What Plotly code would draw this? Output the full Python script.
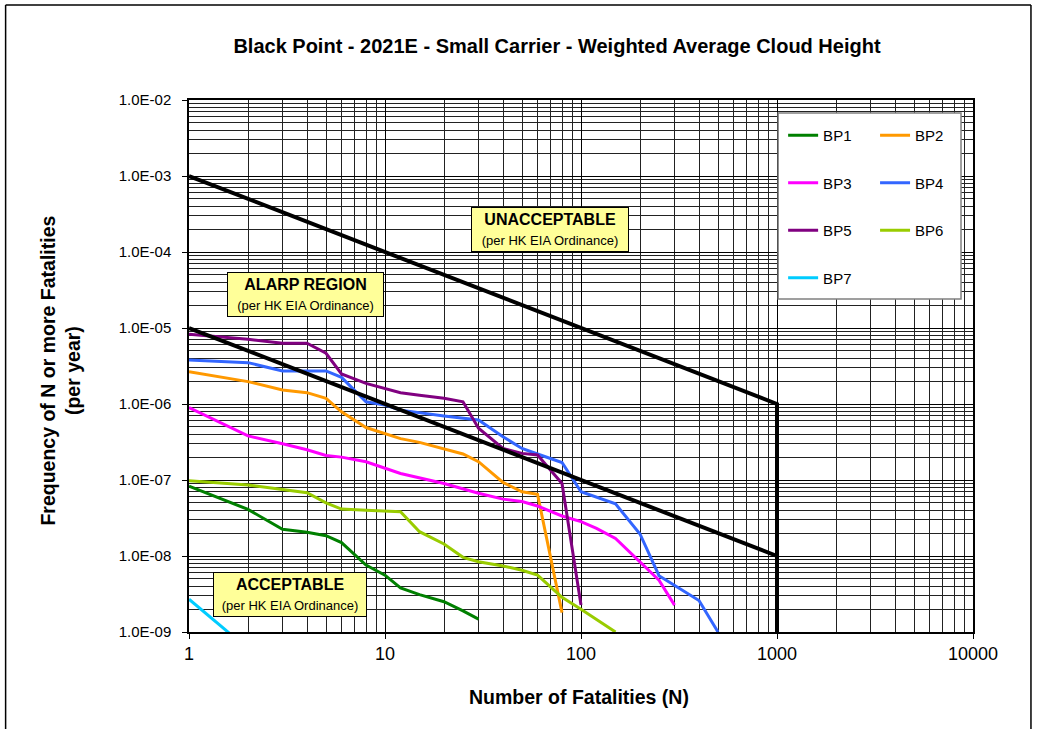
import plotly.graph_objects as go

# ---------------- data ----------------
bp1_n = [1, 2, 3, 4, 5, 6, 8, 10, 12, 15, 20, 25, 30]
bp1_f = [8.3e-8, 4.1e-8, 2.25e-8, 2.05e-8, 1.85e-8, 1.5e-8, 7.6e-9, 5.6e-9, 3.8e-9, 3.1e-9, 2.5e-9, 1.9e-9, 1.48e-9]

bp2_n = [1, 2, 3, 4, 5, 6, 8, 10, 12, 15, 20, 25, 30, 40, 50, 60, 80]
bp2_f = [2.66e-6, 1.97e-6, 1.53e-6, 1.41e-6, 1.19e-6, 7.9e-7, 4.9e-7, 4.1e-7, 3.5e-7, 3.13e-7,
         2.6e-7, 2.2e-7, 1.74e-7, 9.3e-8, 7.0e-8, 6.5e-8, 1.8e-9]

bp3_n = [1, 2, 3, 4, 5, 6, 8, 10, 12, 20, 30, 40, 50, 60, 80, 100, 120, 150, 200, 250, 300]
bp3_f = [9.0e-7, 3.8e-7, 3.0e-7, 2.5e-7, 2.1e-7, 2.0e-7, 1.74e-7, 1.43e-7, 1.22e-7, 9.0e-8, 6.7e-8,
         5.6e-8, 5.2e-8, 4.55e-8, 3.36e-8, 2.83e-8, 2.31e-8, 1.7e-8, 8.4e-9, 4.8e-9, 2.26e-9]

bp4_n = [1, 2, 3, 4, 5, 6, 8, 10, 12, 20, 25, 30, 40, 50, 60, 80, 100, 150, 200, 250, 400, 500]
bp4_f = [3.8e-6, 3.5e-6, 2.72e-6, 2.72e-6, 2.72e-6, 2.24e-6, 1.07e-6, 9.7e-7, 8.3e-7, 6.95e-7, 6.5e-7,
         6.15e-7, 3.7e-7, 2.6e-7, 2.2e-7, 1.7e-7, 7.0e-8, 4.85e-8, 1.95e-8, 5.5e-9, 2.6e-9, 1.0e-9]

bp5_n = [1, 2, 3, 4, 5, 6, 8, 10, 12, 15, 20, 25, 30, 40, 50, 60, 80, 100]
bp5_f = [8.3e-6, 7.1e-6, 6.3e-6, 6.3e-6, 4.65e-6, 2.48e-6, 1.87e-6, 1.61e-6, 1.41e-6, 1.3e-6, 1.19e-6,
         1.07e-6, 4.8e-7, 2.6e-7, 2.24e-7, 2.13e-7, 9.0e-8, 2.26e-9]

bp6_n = [1, 2, 3, 4, 5, 6, 8, 10, 12, 15, 20, 25, 30, 40, 50, 60, 80, 100, 150]
bp6_f = [9.8e-8, 8.6e-8, 7.5e-8, 6.8e-8, 5.0e-8, 4.15e-8, 4.0e-8, 3.9e-8, 3.83e-8, 2.09e-8, 1.44e-8,
         9.6e-9, 8.4e-9, 7.4e-9, 6.5e-9, 5.6e-9, 2.86e-9, 1.99e-9, 1.0e-9]

bp7_n = [1, 2]
bp7_f = [2.7e-9, 6.0e-10]

upper_n = [1, 1000, 1000]
upper_f = [1e-3, 1e-6, 1e-9]
lower_n = [1, 1000]
lower_f = [1e-5, 1e-8]

series_names = ["BP1", "BP2", "BP3", "BP4", "BP5", "BP6", "BP7"]
series_colors = ["#008000", "#FF9900", "#FF00FF", "#3366FF", "#800080", "#99CC00", "#00CCFF"]
series_n = [bp1_n, bp2_n, bp3_n, bp4_n, bp5_n, bp6_n, bp7_n]
series_f = [bp1_f, bp2_f, bp3_f, bp4_f, bp5_f, bp6_f, bp7_f]

x_tick_vals = [1, 10, 100, 1000, 10000]
x_tick_text = ["1", "10", "100", "1000", "10000"]
y_tick_vals = [1e-2, 1e-3, 1e-4, 1e-5, 1e-6, 1e-7, 1e-8, 1e-9]
y_tick_text = ["1.0E-02", "1.0E-03", "1.0E-04", "1.0E-05", "1.0E-06", "1.0E-07", "1.0E-08", "1.0E-09"]

title_text = "Black Point - 2021E - Small Carrier - Weighted Average Cloud Height"
x_title = "Number of Fatalities (N)"
y_title = "Frequency of N or more Fatalities<br>(per year)"

FONT = "Liberation Sans, Arial, sans-serif"

# ---------------- figure ----------------
W, H = 1037, 729
L, R, T, B = 188.5, 973, 100, 632


def px(xp):
    return (xp - L) / (R - L)


def py(yp):
    return (B - yp) / (B - T)


fig = go.Figure()

left_col = {"BP1", "BP3", "BP5", "BP7"}
for name, col, n, f in zip(series_names, series_colors, series_n, series_f):
    fig.add_trace(go.Scatter(
        x=n, y=f, mode="lines", name=name,
        line=dict(color=col, width=3),
        legend="legend" if name in left_col else "legend2",
        legendgroup=name,
    ))

fig.add_trace(go.Scatter(x=upper_n, y=upper_f, mode="lines", showlegend=False,
                         line=dict(color="black", width=4)))
fig.add_trace(go.Scatter(x=lower_n, y=lower_f, mode="lines", showlegend=False,
                         line=dict(color="black", width=4)))

minor_x = [m * 10 ** d for d in range(0, 4) for m in range(2, 10)]
minor_y = [m * 10.0 ** d for d in range(-9, -2) for m in range(2, 10)]

fig.update_xaxes(
    type="log", range=[0, 4],
    tickvals=x_tick_vals, ticktext=x_tick_text,
    ticks="outside", ticklen=5, tickcolor="black",
    showline=True, linecolor="black", linewidth=1.5, mirror=True,
    showgrid=True, gridcolor="black", gridwidth=1,
    minor=dict(tickvals=minor_x, showgrid=True, gridcolor="#222222", gridwidth=1, ticks=""),
    tickfont=dict(family=FONT, size=18, color="black"),
    zeroline=False,
)
fig.update_yaxes(
    type="log", range=[-9, -2],
    tickvals=y_tick_vals, ticktext=y_tick_text,
    ticks="outside", ticklen=5, tickcolor="black",
    showline=True, linecolor="black", linewidth=1.5, mirror=True,
    showgrid=True, gridcolor="black", gridwidth=1,
    minor=dict(tickvals=minor_y, showgrid=True, gridcolor="#222222", gridwidth=1, ticks=""),
    tickfont=dict(family=FONT, size=15, color="black"),
    ticklabelstandoff=8,
    zeroline=False,
)

border = dict(type="line", xref="paper", yref="paper", line=dict(color="black", width=1.5), layer="above")
shapes = [
    # outer chart border
    dict(x0=px(5), x1=px(1031), y0=py(5), y1=py(5), **border),
    dict(x0=px(5), x1=px(5), y0=py(5), y1=py(740), **border),
    dict(x0=px(1031), x1=px(1031), y0=py(5), y1=py(740), **border),
    # legend box
    dict(type="rect", xref="paper", yref="paper",
         x0=px(778), x1=px(961), y0=py(299), y1=py(113),
         line=dict(color="#808080", width=1.5), fillcolor="white", layer="above"),
]

box_style = dict(xref="paper", yref="paper", showarrow=False,
                 bgcolor="#FFFF99", bordercolor="black", borderwidth=1, borderpad=2,
                 font=dict(family=FONT, size=16, color="black"),
                 xanchor="center", yanchor="middle", align="center")

sub = "<span style='font-size:13px'>(per HK EIA Ordinance)</span>"
annotations = [
    dict(text="<b>UNACCEPTABLE</b><br>" + sub, x=px(549.5), y=py(229.5), width=152, height=39, **box_style),
    dict(text="<b>ALARP REGION</b><br>" + sub, x=px(305.5), y=py(294.5), width=151, height=39, **box_style),
    dict(text="<b>ACCEPTABLE</b><br>" + sub, x=px(290), y=py(594.5), width=148, height=39, **box_style),
    dict(text="<b>" + y_title + "</b>", xref="paper", yref="paper", x=px(59), y=py(371),
         textangle=-90, showarrow=False, xanchor="center", yanchor="middle",
         font=dict(family=FONT, size=19.5, color="black")),
    dict(text="<b>" + x_title + "</b>", xref="paper", yref="paper", x=px(579), y=py(697),
         showarrow=False, xanchor="center", yanchor="middle",
         font=dict(family=FONT, size=19.5, color="black")),
]

legend_common = dict(
    orientation="v", bgcolor="rgba(0,0,0,0)", borderwidth=0,
    font=dict(family=FONT, size=15, color="black"),
    xanchor="left", yanchor="top", tracegroupgap=25, itemwidth=30,
)

fig.update_layout(
    width=W, height=H,
    margin=dict(l=L, r=W - R, t=T, b=H - B),
    paper_bgcolor="white", plot_bgcolor="white",
    title=dict(text="<b>" + title_text + "</b>", x=557 / W, xanchor="center",
               y=1 - 46 / H, yanchor="middle",
               font=dict(family=FONT, size=20, color="black")),
    showlegend=True,
    legend=dict(x=px(783), y=py(119), **legend_common),
    legend2=dict(x=px(875), y=py(119), **legend_common),
    shapes=shapes,
    annotations=annotations,
)

fig.write_html("out.html", config={"displayModeBar": False},
               post_script="document.body.style.margin='0';document.body.style.overflow='hidden';")
